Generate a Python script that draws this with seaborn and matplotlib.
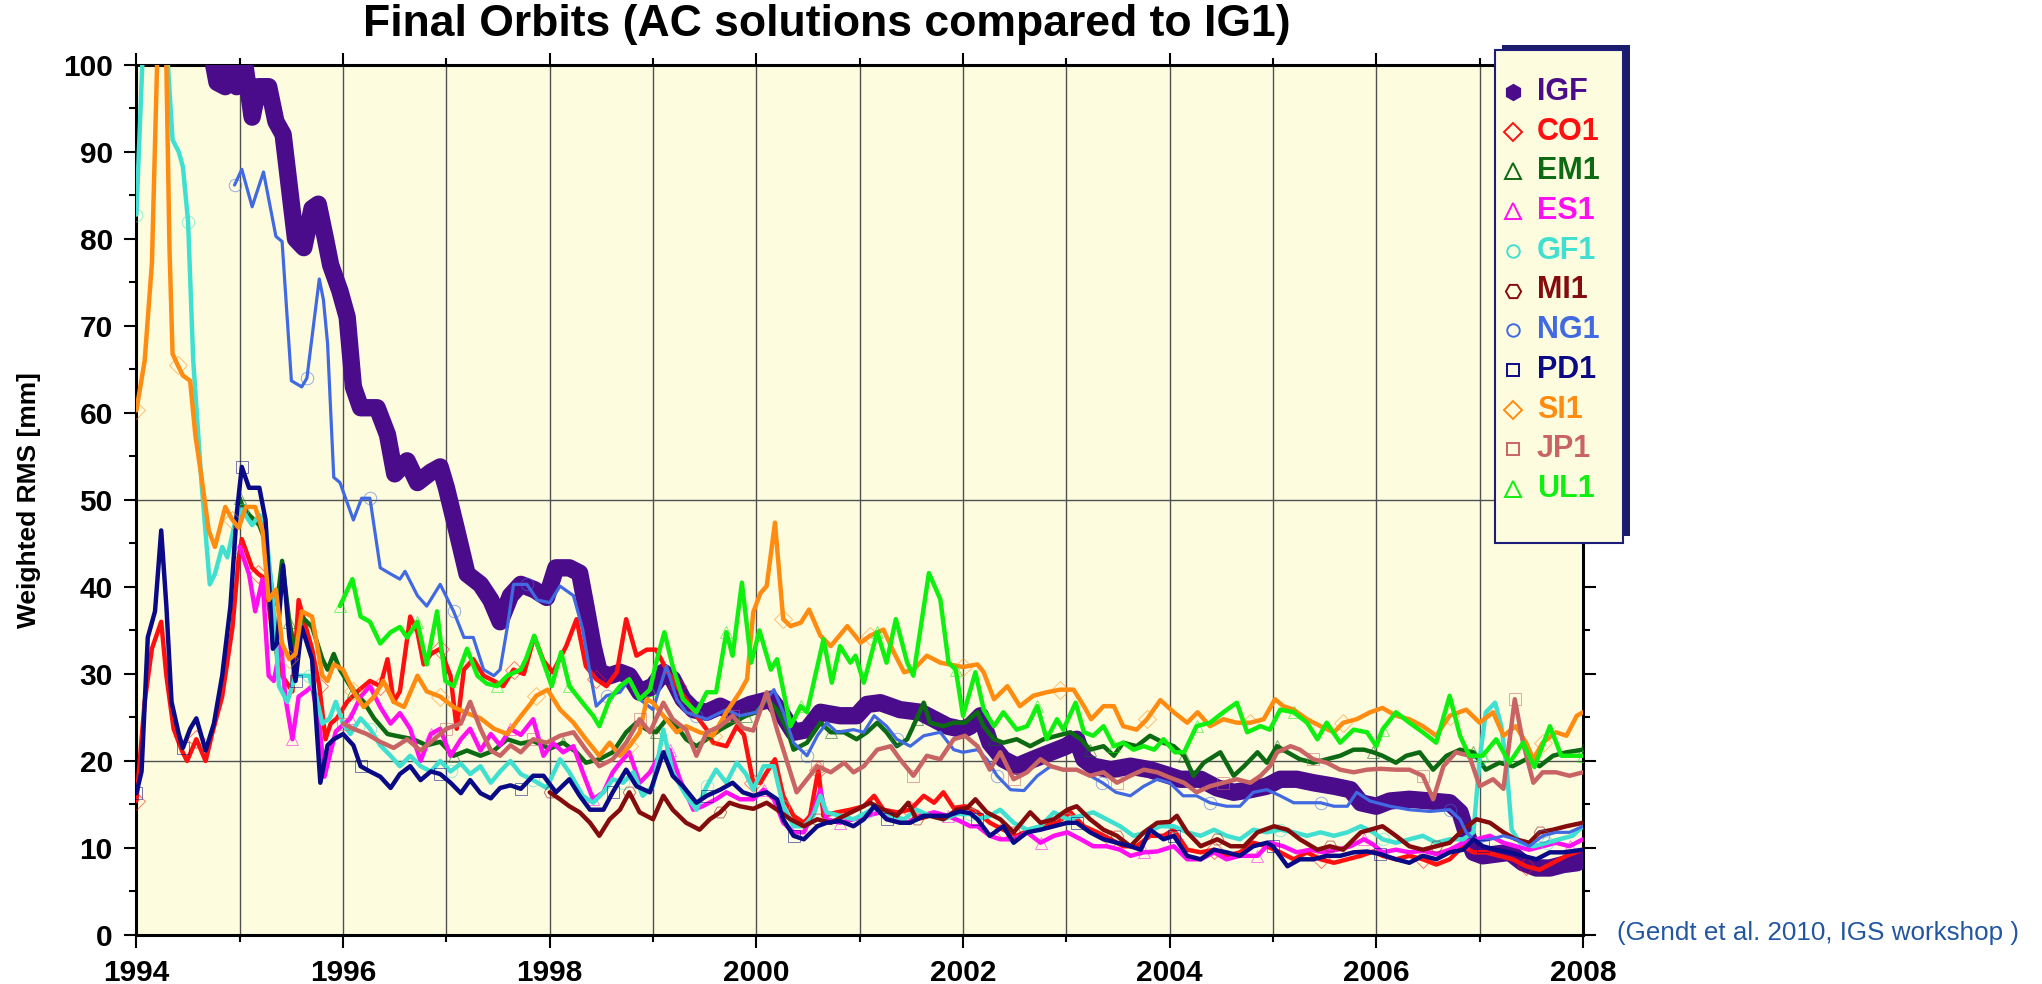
import numpy as np
import pandas as pd
import matplotlib.pyplot as plt
from matplotlib.lines import Line2D
from matplotlib.patches import Rectangle
from matplotlib.colors import to_rgba
from matplotlib.ticker import MultipleLocator, StrMethodFormatter
import seaborn as sns

# (year, weighted RMS [mm])
igf = [(1994.70, 103), (1994.78, 98), (1994.86, 97.5), (1994.92, 100.5), (1994.97, 97.5), (1995.05, 100),
       (1995.12, 94), (1995.18, 97.5), (1995.28, 97.5), (1995.35, 93.5), (1995.42, 92), (1995.48, 86),
       (1995.54, 80), (1995.62, 79), (1995.70, 83.5), (1995.76, 84), (1995.83, 80), (1995.88, 77),
       (1995.97, 74), (1996.04, 71), (1996.10, 63), (1996.17, 60.6), (1996.33, 60.6), (1996.43, 57.5),
       (1996.50, 53), (1996.62, 54.5), (1996.72, 52), (1996.85, 53.2), (1996.94, 53.8), (1997.00, 51.4),
       (1997.10, 46.5), (1997.20, 41.5), (1997.33, 40.3), (1997.43, 38.5), (1997.52, 36), (1997.62, 39),
       (1997.72, 40.3), (1997.85, 39.7), (1997.97, 38.8), (1998.06, 42.2), (1998.19, 42.2), (1998.29, 41.6),
       (1998.35, 37.8), (1998.42, 33.2), (1998.48, 30.2), (1998.58, 29.8), (1998.68, 30.2), (1998.77, 29.8),
       (1998.87, 27.9), (1999.00, 28.6), (1999.10, 30.2), (1999.19, 29.4), (1999.29, 27.1), (1999.39, 25.9),
       (1999.52, 25.6), (1999.65, 26.3), (1999.77, 25.6), (1999.94, 26.5), (2000.14, 27.1), (2000.26, 25.2),
       (2000.36, 23.3), (2000.49, 23.6), (2000.62, 25.6), (2000.81, 25.2), (2000.97, 25.2), (2001.07, 26.5),
       (2001.20, 26.7), (2001.39, 25.9), (2001.59, 25.6), (2001.72, 24.8), (2001.85, 24.0), (2002.00, 23.6),
       (2002.07, 24.0), (2002.17, 25.2), (2002.26, 22.1), (2002.39, 20.2), (2002.52, 19.4), (2002.68, 20.2),
       (2002.85, 21.0), (2003.00, 21.7), (2003.10, 22.5), (2003.17, 20.2), (2003.26, 19.4), (2003.43, 19.0),
       (2003.62, 19.4), (2003.81, 19.0), (2004.00, 18.3), (2004.10, 17.9), (2004.30, 17.9), (2004.46, 16.9),
       (2004.62, 16.4), (2004.78, 16.7), (2004.94, 17.1), (2005.07, 17.9), (2005.23, 17.9), (2005.39, 17.5),
       (2005.59, 17.1), (2005.75, 16.7), (2005.85, 15.2), (2006.00, 14.8), (2006.13, 15.4), (2006.32, 15.6),
       (2006.52, 15.4), (2006.71, 15.2), (2006.81, 14.1), (2006.87, 11.8), (2006.94, 9.5), (2007.03, 9.1),
       (2007.16, 9.3), (2007.29, 9.5), (2007.42, 8.3), (2007.55, 7.7), (2007.68, 7.7), (2007.81, 8.1),
       (2007.94, 8.3), (2008.00, 8.7)]

co1 = [(1994.00, 15.4), (1994.08, 26.8), (1994.15, 32.9), (1994.24, 36.0), (1994.29, 29.8), (1994.36, 23.7),
       (1994.44, 21.2), (1994.49, 20.0), (1994.58, 22.5), (1994.67, 20.0), (1994.73, 23.0), (1994.83, 27.4),
       (1994.93, 35.4), (1994.99, 43.4), (1995.02, 45.5), (1995.12, 42.2), (1995.18, 41.5), (1995.25, 40.9),
       (1995.32, 34.2), (1995.41, 29.8), (1995.51, 28.0), (1995.57, 38.5), (1995.64, 35.4), (1995.70, 32.9),
       (1995.77, 28.6), (1995.83, 22.5), (1995.88, 24.3), (1995.94, 24.9), (1996.04, 26.8), (1996.14, 28.0),
       (1996.20, 28.6), (1996.26, 29.2), (1996.36, 28.6), (1996.43, 31.7), (1996.49, 26.8), (1996.55, 28.0),
       (1996.65, 36.6), (1996.72, 34.8), (1996.78, 31.1), (1996.85, 32.3), (1996.94, 32.9), (1997.04, 29.8),
       (1997.10, 23.7), (1997.17, 30.5), (1997.26, 31.7), (1997.36, 29.8), (1997.46, 29.2), (1997.55, 28.6),
       (1997.65, 30.5), (1997.75, 30.0), (1997.85, 34.3), (1997.94, 31.5), (1998.03, 30.2), (1998.16, 33.2),
       (1998.26, 36.3), (1998.35, 30.9), (1998.45, 29.4), (1998.55, 28.6), (1998.65, 30.2), (1998.74, 36.3),
       (1998.84, 32.1), (1998.94, 32.8), (1999.03, 32.8), (1999.13, 30.5), (1999.23, 28.6), (1999.32, 27.1),
       (1999.42, 25.2), (1999.52, 23.6), (1999.58, 22.1), (1999.71, 21.7), (1999.81, 24.0), (1999.88, 23.0),
       (1999.97, 17.5), (2000.04, 17.5), (2000.10, 18.7), (2000.18, 20.2), (2000.26, 16.0), (2000.36, 13.7),
       (2000.46, 12.9), (2000.52, 13.7), (2000.60, 19.0), (2000.65, 13.7), (2000.78, 14.1), (2000.91, 14.4),
       (2001.04, 14.8), (2001.14, 16.0), (2001.23, 14.4), (2001.36, 14.1), (2001.49, 14.4), (2001.62, 16.0),
       (2001.72, 15.2), (2001.81, 16.4), (2001.91, 14.6), (2002.02, 14.8), (2002.14, 14.1), (2002.26, 12.9),
       (2002.39, 12.1), (2002.52, 11.4), (2002.65, 12.1), (2002.78, 12.5), (2002.91, 12.9), (2003.04, 14.1),
       (2003.17, 12.5), (2003.30, 11.8), (2003.43, 11.0), (2003.55, 10.2), (2003.68, 10.2), (2003.81, 11.4),
       (2003.94, 11.4), (2004.04, 12.1), (2004.17, 9.8), (2004.30, 9.5), (2004.43, 9.8), (2004.55, 9.1),
       (2004.68, 9.5), (2004.81, 10.6), (2004.94, 10.2), (2005.07, 9.5), (2005.20, 8.7), (2005.33, 9.5),
       (2005.46, 8.7), (2005.59, 8.3), (2005.72, 8.7), (2005.85, 9.1), (2005.97, 9.6), (2006.06, 9.1),
       (2006.19, 8.7), (2006.32, 9.1), (2006.45, 8.7), (2006.58, 8.1), (2006.71, 8.7), (2006.84, 10.2),
       (2006.94, 9.5), (2007.06, 9.5), (2007.19, 9.1), (2007.32, 8.7), (2007.45, 7.9), (2007.58, 7.5),
       (2007.71, 8.3), (2007.84, 9.1), (2008.00, 9.8)]

em1 = [(1995.00, 50.2), (1995.02, 49.5), (1995.09, 48.3), (1995.19, 47.1), (1995.25, 45.2), (1995.32, 39.0),
       (1995.36, 38.0), (1995.41, 43.0), (1995.48, 36.0), (1995.54, 32.3), (1995.60, 36.6), (1995.70, 35.4),
       (1995.80, 31.7), (1995.85, 30.5), (1995.91, 32.3), (1995.97, 30.5), (1996.10, 28.0), (1996.20, 26.8),
       (1996.30, 24.9), (1996.43, 23.1), (1996.55, 22.8), (1996.68, 22.5), (1996.81, 21.8), (1996.94, 22.2),
       (1997.07, 20.6), (1997.20, 21.2), (1997.33, 20.6), (1997.46, 21.2), (1997.59, 22.5), (1997.72, 22.0),
       (1997.84, 22.3), (1998.00, 21.4), (1998.13, 22.1), (1998.26, 21.0), (1998.35, 19.8), (1998.48, 20.2),
       (1998.61, 21.0), (1998.74, 23.3), (1998.84, 24.4), (1998.94, 23.6), (1999.03, 23.3), (1999.13, 24.8),
       (1999.23, 24.0), (1999.32, 22.5), (1999.42, 21.7), (1999.52, 22.5), (1999.65, 23.6), (1999.77, 24.4),
       (1999.90, 25.2), (2000.00, 25.6), (2000.10, 27.1), (2000.20, 25.9), (2000.30, 23.6), (2000.36, 21.3),
       (2000.49, 22.1), (2000.62, 24.4), (2000.72, 23.3), (2000.85, 23.3), (2000.97, 22.5), (2001.07, 23.3),
       (2001.17, 24.4), (2001.26, 23.3), (2001.36, 21.7), (2001.46, 22.5), (2001.55, 24.8), (2001.62, 26.7),
       (2001.68, 24.4), (2001.81, 24.0), (2001.91, 24.4), (2002.02, 24.4), (2002.14, 25.6), (2002.20, 24.0),
       (2002.30, 22.5), (2002.39, 22.1), (2002.52, 22.5), (2002.65, 21.7), (2002.78, 22.5), (2002.91, 22.9),
       (2003.04, 23.3), (2003.14, 22.5), (2003.23, 21.3), (2003.36, 21.7), (2003.46, 20.6), (2003.55, 22.1),
       (2003.68, 21.7), (2003.81, 22.9), (2003.94, 22.1), (2004.04, 21.7), (2004.14, 20.6), (2004.23, 18.3),
       (2004.33, 19.8), (2004.49, 21.0), (2004.62, 18.3), (2004.72, 19.4), (2004.85, 21.0), (2004.94, 19.8),
       (2005.04, 21.7), (2005.14, 21.0), (2005.26, 20.2), (2005.39, 19.8), (2005.52, 20.2), (2005.65, 20.6),
       (2005.78, 21.3), (2005.88, 21.3), (2005.97, 21.0), (2006.06, 20.6), (2006.19, 19.8), (2006.29, 20.6),
       (2006.42, 21.0), (2006.55, 19.0), (2006.68, 20.6), (2006.81, 21.3), (2006.94, 21.0), (2007.06, 19.0),
       (2007.19, 19.8), (2007.32, 19.4), (2007.45, 20.2), (2007.58, 19.4), (2007.71, 20.6), (2007.84, 21.0),
       (2008.00, 21.3)]

es1 = [(1995.00, 44.6), (1995.09, 41.5), (1995.15, 37.2), (1995.22, 40.9), (1995.28, 29.8), (1995.33, 29.2),
       (1995.40, 33.5), (1995.44, 27.4), (1995.51, 22.5), (1995.57, 27.4), (1995.64, 28.0), (1995.70, 28.6),
       (1995.77, 24.3), (1995.82, 18.2), (1995.87, 20.6), (1995.93, 23.4), (1996.07, 24.9), (1996.17, 27.4),
       (1996.26, 28.6), (1996.36, 26.2), (1996.46, 24.3), (1996.55, 25.5), (1996.65, 23.7), (1996.75, 20.0),
       (1996.85, 23.1), (1996.94, 23.7), (1997.04, 20.6), (1997.14, 22.5), (1997.23, 23.7), (1997.33, 21.2),
       (1997.43, 23.1), (1997.52, 21.8), (1997.62, 23.7), (1997.72, 23.0), (1997.84, 24.8), (1997.94, 20.6),
       (1998.03, 22.1), (1998.13, 21.0), (1998.23, 21.7), (1998.32, 18.7), (1998.42, 15.6), (1998.52, 16.4),
       (1998.61, 18.7), (1998.68, 19.8), (1998.77, 21.0), (1998.87, 17.5), (1998.97, 18.7), (1999.06, 20.6),
       (1999.16, 21.3), (1999.26, 17.9), (1999.39, 14.4), (1999.48, 14.8), (1999.61, 15.6), (1999.71, 16.4),
       (1999.84, 15.6), (1999.97, 15.6), (2000.07, 16.7), (2000.17, 15.6), (2000.26, 12.9), (2000.36, 11.8),
       (2000.46, 11.8), (2000.55, 14.1), (2000.62, 16.7), (2000.68, 13.3), (2000.81, 12.9), (2000.94, 13.3),
       (2001.07, 13.7), (2001.20, 14.1), (2001.33, 13.3), (2001.46, 12.9), (2001.59, 13.7), (2001.72, 14.1),
       (2001.85, 13.7), (2001.97, 13.1), (2002.07, 12.5), (2002.14, 12.5), (2002.26, 11.4), (2002.36, 11.0),
       (2002.49, 11.0), (2002.62, 11.8), (2002.75, 10.6), (2002.88, 11.4), (2003.01, 11.8), (2003.14, 11.0),
       (2003.26, 10.2), (2003.39, 10.2), (2003.52, 9.8), (2003.62, 9.1), (2003.75, 9.5), (2003.88, 9.6),
       (2004.04, 10.2), (2004.17, 8.7), (2004.30, 8.7), (2004.43, 9.5), (2004.55, 8.7), (2004.68, 9.1),
       (2004.85, 9.1), (2004.97, 10.6), (2005.10, 10.2), (2005.23, 9.5), (2005.36, 9.8), (2005.49, 9.5),
       (2005.62, 9.8), (2005.75, 10.2), (2005.88, 11.0), (2005.97, 10.4), (2006.06, 9.5), (2006.19, 9.8),
       (2006.32, 9.5), (2006.45, 9.7), (2006.58, 9.3), (2006.71, 9.8), (2006.84, 10.6), (2006.97, 11.0),
       (2007.10, 11.4), (2007.23, 10.6), (2007.35, 10.2), (2007.48, 9.8), (2007.61, 10.2), (2007.74, 10.6),
       (2007.87, 10.2), (2008.00, 11.0)]

gf1 = [(1994.00, 82.8), (1994.04, 95), (1994.07, 104), (1994.20, 112), (1994.30, 101), (1994.35, 91.4),
       (1994.41, 90.0), (1994.45, 88.3), (1994.50, 82), (1994.55, 66), (1994.63, 52), (1994.71, 40.3),
       (1994.76, 41.5), (1994.83, 44.6), (1994.88, 43.4), (1994.96, 47.7), (1995.02, 48.9), (1995.12, 47.1),
       (1995.19, 48.3), (1995.25, 47.1), (1995.32, 38.5), (1995.38, 28.6), (1995.46, 26.8), (1995.54, 29.8),
       (1995.67, 29.8), (1995.74, 27.4), (1995.80, 24.3), (1995.87, 24.9), (1995.93, 26.8), (1996.00, 24.3),
       (1996.07, 23.1), (1996.17, 24.9), (1996.26, 23.7), (1996.36, 21.8), (1996.46, 20.6), (1996.55, 19.4),
       (1996.65, 20.6), (1996.75, 19.4), (1996.85, 18.8), (1996.94, 20.0), (1997.04, 18.8), (1997.14, 19.7),
       (1997.23, 18.5), (1997.33, 19.4), (1997.43, 17.5), (1997.52, 18.8), (1997.62, 20.0), (1997.72, 18.5),
       (1997.84, 17.8), (1997.97, 16.9), (1998.10, 20.2), (1998.19, 18.7), (1998.32, 16.0), (1998.42, 15.2),
       (1998.52, 16.4), (1998.61, 17.9), (1998.71, 17.5), (1998.81, 18.7), (1998.90, 16.0), (1999.00, 17.1),
       (1999.10, 23.6), (1999.19, 18.7), (1999.32, 16.0), (1999.42, 14.4), (1999.52, 17.1), (1999.61, 19.0),
       (1999.71, 17.5), (1999.81, 19.8), (1999.90, 18.5), (1999.97, 16.7), (2000.07, 19.4), (2000.17, 19.4),
       (2000.26, 14.8), (2000.36, 12.5), (2000.46, 12.5), (2000.55, 13.7), (2000.62, 16.0), (2000.68, 14.1),
       (2000.81, 13.7), (2000.94, 13.3), (2001.07, 14.1), (2001.17, 14.8), (2001.30, 13.7), (2001.43, 13.3),
       (2001.55, 14.4), (2001.68, 13.7), (2001.81, 13.3), (2001.94, 13.9), (2002.07, 13.9), (2002.14, 13.3),
       (2002.26, 13.7), (2002.36, 14.4), (2002.49, 12.9), (2002.62, 12.1), (2002.75, 12.5), (2002.88, 14.1),
       (2003.01, 13.3), (2003.14, 13.7), (2003.26, 14.1), (2003.39, 13.3), (2003.52, 12.5), (2003.65, 11.4),
       (2003.78, 11.8), (2003.91, 12.5), (2004.04, 12.5), (2004.17, 11.8), (2004.30, 11.4), (2004.43, 12.1),
       (2004.55, 11.4), (2004.68, 11.0), (2004.81, 12.1), (2004.94, 11.8), (2005.07, 12.1), (2005.20, 11.8),
       (2005.33, 11.4), (2005.46, 11.8), (2005.59, 11.4), (2005.72, 11.8), (2005.85, 12.5), (2005.97, 11.8),
       (2006.06, 11.0), (2006.19, 10.6), (2006.32, 11.0), (2006.45, 11.4), (2006.58, 10.6), (2006.71, 11.0),
       (2006.84, 11.0), (2006.94, 11.8), (2007.00, 20.2), (2007.06, 25.6), (2007.15, 26.7), (2007.21, 24.0),
       (2007.26, 19.4), (2007.31, 12.1), (2007.39, 10.6), (2007.52, 10.2), (2007.65, 10.6), (2007.77, 11.0),
       (2007.90, 11.4), (2008.00, 12.5)]

mi1 = [(1998.00, 16.4), (1998.10, 15.6), (1998.19, 14.8), (1998.29, 14.1), (1998.39, 12.9), (1998.48, 11.4),
       (1998.58, 13.3), (1998.68, 14.4), (1998.77, 16.4), (1998.87, 14.1), (1999.00, 13.3), (1999.10, 16.0),
       (1999.19, 14.4), (1999.32, 12.9), (1999.45, 12.1), (1999.55, 13.3), (1999.65, 14.1), (1999.74, 15.2),
       (1999.84, 14.8), (1999.97, 14.5), (2000.10, 15.2), (2000.20, 14.4), (2000.33, 13.3), (2000.46, 12.5),
       (2000.59, 13.3), (2000.72, 12.9), (2000.85, 13.7), (2000.97, 14.4), (2001.10, 15.2), (2001.23, 14.4),
       (2001.36, 13.7), (2001.47, 15.2), (2001.55, 13.3), (2001.68, 13.7), (2001.81, 13.3), (2001.94, 14.4),
       (2002.04, 14.6), (2002.12, 15.6), (2002.23, 14.1), (2002.36, 13.3), (2002.49, 11.8), (2002.65, 14.1),
       (2002.75, 12.9), (2002.88, 13.3), (2003.01, 14.4), (2003.10, 14.8), (2003.23, 13.3), (2003.36, 12.1),
       (2003.49, 11.4), (2003.62, 10.2), (2003.75, 11.8), (2003.88, 12.9), (2004.00, 13.0), (2004.07, 13.7),
       (2004.17, 11.8), (2004.30, 10.2), (2004.46, 11.0), (2004.59, 10.2), (2004.72, 10.2), (2004.85, 11.8),
       (2005.01, 12.5), (2005.14, 12.1), (2005.26, 11.0), (2005.43, 9.8), (2005.55, 10.2), (2005.68, 9.8),
       (2005.85, 11.8), (2006.00, 12.3), (2006.06, 12.5), (2006.19, 11.4), (2006.32, 10.2), (2006.45, 9.8),
       (2006.58, 10.2), (2006.71, 10.6), (2006.84, 12.1), (2006.97, 13.3), (2007.10, 12.9), (2007.23, 11.8),
       (2007.35, 11.0), (2007.48, 10.6), (2007.58, 11.8), (2007.71, 12.1), (2007.84, 12.5), (2008.00, 12.9)]

ng1 = [(1994.95, 86.2), (1995.02, 88), (1995.12, 83.7), (1995.23, 87.7), (1995.35, 80.3), (1995.41, 79.7),
       (1995.50, 63.7), (1995.60, 63), (1995.65, 64), (1995.77, 75.4), (1995.81, 73), (1995.85, 68),
       (1995.91, 52.6), (1995.97, 52), (1996.10, 47.7), (1996.18, 50.2), (1996.26, 50.2), (1996.36, 42.2),
       (1996.46, 41.5), (1996.55, 40.9), (1996.60, 41.8), (1996.72, 39), (1996.81, 37.8), (1996.94, 40.3),
       (1997.07, 37.2), (1997.17, 34.2), (1997.26, 34.2), (1997.36, 30.5), (1997.46, 29.8), (1997.52, 30.5),
       (1997.59, 35.4), (1997.65, 40.3), (1997.78, 40.3), (1997.88, 38.5), (1998.00, 38.2), (1998.10, 40.1),
       (1998.23, 39), (1998.32, 35.1), (1998.39, 30.2), (1998.45, 26.3), (1998.55, 27.5), (1998.68, 27.9),
       (1998.77, 29.4), (1998.87, 27.1), (1999.00, 25.9), (1999.13, 30.9), (1999.23, 27.1), (1999.32, 25.6),
       (1999.42, 25.2), (1999.52, 24.8), (1999.71, 25.9), (1999.84, 25.2), (2000.00, 25.6), (2000.17, 28.2),
       (2000.26, 25.6), (2000.36, 22.1), (2000.49, 20.6), (2000.59, 22.9), (2000.68, 24.4), (2000.78, 23.3),
       (2000.94, 23.6), (2001.04, 23.3), (2001.14, 25.2), (2001.26, 24.0), (2001.36, 22.5), (2001.49, 21.7),
       (2001.62, 22.9), (2001.78, 23.3), (2001.91, 21.3), (2002.00, 21.0), (2002.14, 21.3), (2002.23, 20.2),
       (2002.33, 18.3), (2002.46, 16.7), (2002.59, 16.6), (2002.72, 18.3), (2002.85, 19.4), (2002.97, 19.0),
       (2003.10, 19.0), (2003.23, 18.3), (2003.35, 17.5), (2003.48, 16.4), (2003.62, 16.0), (2003.75, 17.1),
       (2003.88, 17.9), (2004.00, 17.5), (2004.13, 16.0), (2004.26, 16.0), (2004.39, 15.2), (2004.55, 14.8),
       (2004.68, 14.8), (2004.81, 16.4), (2004.94, 16.7), (2005.07, 16.0), (2005.20, 15.2), (2005.33, 15.2),
       (2005.46, 15.2), (2005.59, 14.8), (2005.72, 14.8), (2005.81, 16.4), (2005.94, 15.4), (2006.13, 14.8),
       (2006.32, 14.4), (2006.52, 14.2), (2006.71, 14.4), (2006.81, 13.3), (2006.87, 11.8), (2006.97, 10.7),
       (2007.10, 11.0), (2007.23, 11.4), (2007.35, 11.0), (2007.48, 10.2), (2007.61, 11.4), (2007.74, 11.8),
       (2007.87, 11.8), (2008.00, 12.5)]

pd1 = [(1994.00, 16.3), (1994.05, 18.8), (1994.11, 34.2), (1994.18, 37.2), (1994.24, 46.5), (1994.29, 37.8),
       (1994.34, 26.8), (1994.41, 23.1), (1994.45, 21.5), (1994.52, 23.7), (1994.58, 24.9), (1994.67, 21.2),
       (1994.75, 24.3), (1994.83, 29.8), (1994.91, 37.8), (1994.97, 48.3), (1995.02, 53.8), (1995.09, 51.4),
       (1995.19, 51.4), (1995.25, 47.7), (1995.32, 32.9), (1995.36, 33.5), (1995.42, 42.5), (1995.48, 34.2),
       (1995.54, 29.2), (1995.60, 35.4), (1995.70, 31.7), (1995.78, 17.5), (1995.85, 21.8), (1995.91, 22.5),
       (1996.00, 23.1), (1996.10, 21.8), (1996.17, 19.4), (1996.26, 18.8), (1996.36, 18.2), (1996.46, 16.9),
       (1996.55, 18.5), (1996.65, 19.4), (1996.75, 17.8), (1996.85, 18.8), (1996.94, 18.5), (1997.04, 17.5),
       (1997.14, 16.3), (1997.23, 17.8), (1997.33, 16.3), (1997.43, 15.7), (1997.52, 16.9), (1997.62, 17.2),
       (1997.72, 16.8), (1997.84, 18.3), (1997.94, 18.3), (1998.06, 16.4), (1998.19, 17.9), (1998.29, 16.0),
       (1998.39, 14.4), (1998.52, 14.4), (1998.61, 16.4), (1998.74, 19.0), (1998.84, 17.1), (1998.97, 16.4),
       (1999.10, 21.0), (1999.19, 18.3), (1999.29, 17.1), (1999.42, 15.2), (1999.52, 16.0), (1999.65, 16.7),
       (1999.77, 17.5), (1999.87, 16.4), (1999.97, 16.0), (2000.10, 16.4), (2000.20, 15.6), (2000.26, 13.3),
       (2000.36, 11.4), (2000.46, 11.0), (2000.59, 12.5), (2000.68, 12.9), (2000.81, 13.1), (2000.94, 12.5),
       (2001.04, 13.3), (2001.14, 14.8), (2001.26, 13.3), (2001.39, 12.9), (2001.49, 12.9), (2001.62, 13.7),
       (2001.75, 13.7), (2001.85, 13.7), (2001.97, 14.2), (2002.07, 14.0), (2002.14, 13.3), (2002.26, 11.4),
       (2002.39, 12.5), (2002.49, 10.6), (2002.62, 11.8), (2002.75, 12.1), (2002.88, 12.5), (2003.01, 12.9),
       (2003.10, 12.9), (2003.23, 11.8), (2003.36, 11.0), (2003.49, 10.6), (2003.62, 10.2), (2003.72, 9.8),
       (2003.81, 12.1), (2003.94, 11.0), (2004.04, 11.4), (2004.17, 9.1), (2004.30, 8.7), (2004.43, 9.8),
       (2004.55, 9.5), (2004.68, 9.1), (2004.81, 10.2), (2004.94, 10.6), (2005.00, 10.2), (2005.14, 7.9),
       (2005.26, 8.7), (2005.39, 8.7), (2005.52, 9.1), (2005.65, 9.1), (2005.78, 9.5), (2005.91, 9.6),
       (2006.04, 9.3), (2006.19, 8.7), (2006.32, 8.3), (2006.45, 9.1), (2006.58, 8.7), (2006.71, 9.5),
       (2006.84, 9.8), (2006.94, 11.0), (2007.03, 10.2), (2007.16, 9.8), (2007.29, 9.5), (2007.42, 9.1),
       (2007.55, 8.7), (2007.68, 9.5), (2007.81, 9.5), (2008.00, 9.8)]

si1 = [(1994.00, 60.3), (1994.08, 66), (1994.15, 77.2), (1994.20, 100), (1994.24, 106), (1994.29, 100),
       (1994.32, 79), (1994.35, 66.8), (1994.40, 65.5), (1994.45, 64.3), (1994.52, 63.7), (1994.57, 57.5),
       (1994.63, 52.6), (1994.70, 46.5), (1994.76, 44.6), (1994.86, 49.2), (1994.93, 47.7), (1994.99, 46.8),
       (1995.06, 49.2), (1995.15, 49.2), (1995.22, 46.5), (1995.28, 38.5), (1995.35, 39.7), (1995.41, 33.5),
       (1995.48, 31.7), (1995.54, 32.3), (1995.60, 37.2), (1995.70, 36.6), (1995.80, 29.8), (1995.85, 29.2),
       (1995.91, 31.1), (1996.00, 30.5), (1996.10, 28), (1996.20, 26.2), (1996.30, 27.4), (1996.39, 29.2),
       (1996.49, 26.8), (1996.59, 26.2), (1996.72, 29.8), (1996.81, 28), (1996.94, 27.4), (1997.07, 26.2),
       (1997.20, 25.5), (1997.33, 24.9), (1997.46, 23.7), (1997.59, 23.1), (1997.71, 25.0), (1997.81, 26.5),
       (1997.87, 27.5), (1997.98, 28.2), (1998.10, 25.9), (1998.23, 24.4), (1998.35, 22.5), (1998.48, 20.6),
       (1998.58, 22.1), (1998.68, 20.6), (1998.77, 21.7), (1998.87, 23.3), (1998.94, 27.1), (1999.00, 26.7),
       (1999.10, 25.2), (1999.23, 23.3), (1999.32, 24.0), (1999.45, 23.3), (1999.58, 22.9), (1999.71, 25.6),
       (1999.84, 27.9), (1999.91, 29.4), (1999.97, 37.1), (2000.04, 39.3), (2000.10, 40.1), (2000.18, 47.4),
       (2000.26, 36.3), (2000.33, 35.5), (2000.43, 35.9), (2000.51, 37.4), (2000.62, 34.4), (2000.72, 33.2),
       (2000.88, 35.5), (2001.01, 33.6), (2001.10, 34.4), (2001.23, 35.1), (2001.33, 32.5), (2001.43, 30.2),
       (2001.52, 30.5), (2001.65, 32.1), (2001.78, 31.3), (2001.91, 31.0), (2002.00, 30.8), (2002.14, 31.1),
       (2002.20, 30.2), (2002.30, 27.1), (2002.43, 28.6), (2002.55, 26.3), (2002.68, 27.5), (2002.81, 27.9),
       (2002.94, 28.2), (2003.07, 28.2), (2003.17, 26.3), (2003.24, 24.8), (2003.36, 26.3), (2003.46, 26.3),
       (2003.55, 24.0), (2003.68, 23.6), (2003.78, 24.8), (2003.91, 27.0), (2004.04, 25.6), (2004.17, 24.4),
       (2004.27, 25.6), (2004.39, 24.0), (2004.52, 24.8), (2004.65, 24.4), (2004.78, 24.4), (2004.91, 24.8),
       (2005.02, 27.1), (2005.10, 26.3), (2005.20, 25.9), (2005.33, 24.8), (2005.46, 24.0), (2005.59, 23.3),
       (2005.68, 24.4), (2005.81, 24.8), (2005.94, 25.6), (2006.06, 26.1), (2006.19, 25.2), (2006.32, 24.8),
       (2006.45, 24.0), (2006.58, 22.9), (2006.71, 25.2), (2006.87, 25.9), (2007.00, 24.4), (2007.13, 25.6),
       (2007.23, 22.9), (2007.35, 24.0), (2007.45, 22.1), (2007.52, 20.2), (2007.61, 22.1), (2007.74, 23.3),
       (2007.84, 22.9), (2007.94, 25.2), (2008.00, 25.6)]

jp1 = [(1996.00, 24.3), (1996.10, 23.7), (1996.23, 23.1), (1996.36, 22.2), (1996.49, 21.5), (1996.62, 22.5),
       (1996.75, 21.2), (1996.88, 22.5), (1997.00, 23.7), (1997.14, 24.3), (1997.23, 26.8), (1997.33, 23.7),
       (1997.43, 21.2), (1997.52, 20.6), (1997.62, 21.8), (1997.72, 21.0), (1997.84, 22.5), (1997.97, 22.1),
       (1998.10, 22.9), (1998.23, 23.3), (1998.35, 21.3), (1998.48, 19.4), (1998.61, 20.2), (1998.74, 22.1),
       (1998.87, 24.8), (1998.97, 23.3), (1999.10, 26.7), (1999.19, 24.8), (1999.32, 23.6), (1999.42, 20.6),
       (1999.52, 23.3), (1999.65, 24.0), (1999.77, 25.2), (1999.87, 23.8), (1999.97, 23.5), (2000.10, 27.9),
       (2000.20, 23.6), (2000.30, 19.8), (2000.39, 16.4), (2000.49, 17.9), (2000.59, 19.4), (2000.72, 18.7),
       (2000.85, 19.8), (2000.94, 18.7), (2001.04, 19.4), (2001.17, 21.3), (2001.30, 21.7), (2001.39, 20.2),
       (2001.52, 18.3), (2001.65, 20.6), (2001.78, 20.2), (2001.91, 22.5), (2002.02, 22.9), (2002.14, 21.7),
       (2002.26, 19.0), (2002.36, 21.0), (2002.49, 17.9), (2002.62, 18.7), (2002.75, 20.2), (2002.85, 19.4),
       (2002.97, 19.0), (2003.10, 19.0), (2003.23, 18.3), (2003.36, 18.7), (2003.49, 17.5), (2003.62, 18.3),
       (2003.75, 19.0), (2003.88, 18.7), (2004.00, 18.1), (2004.14, 17.5), (2004.26, 16.4), (2004.39, 17.1),
       (2004.52, 17.5), (2004.65, 17.9), (2004.78, 17.5), (2004.88, 18.3), (2004.97, 19.4), (2005.04, 21.0),
       (2005.17, 21.7), (2005.26, 21.3), (2005.39, 20.2), (2005.52, 19.8), (2005.65, 19.0), (2005.78, 18.7),
       (2005.91, 19.0), (2006.04, 19.1), (2006.19, 19.0), (2006.32, 19.0), (2006.45, 18.3), (2006.55, 15.6),
       (2006.65, 19.4), (2006.77, 21.0), (2006.90, 20.6), (2007.00, 17.1), (2007.13, 17.9), (2007.23, 16.8),
       (2007.34, 27.1), (2007.42, 22.1), (2007.52, 17.5), (2007.61, 18.7), (2007.74, 18.7), (2007.87, 18.3),
       (2008.00, 18.7)]

ul1 = [(1995.97, 37.8), (1996.09, 40.9), (1996.17, 36.6), (1996.26, 36.0), (1996.36, 33.5), (1996.46, 34.8),
       (1996.55, 35.4), (1996.62, 34.2), (1996.72, 36.0), (1996.81, 31.1), (1996.91, 37.2), (1996.99, 29.2),
       (1997.07, 28.6), (1997.20, 32.9), (1997.30, 29.8), (1997.39, 28.9), (1997.49, 28.6), (1997.59, 29.8),
       (1997.72, 30.5), (1997.77, 31.7), (1997.85, 34.4), (1997.94, 31.3), (1998.02, 28.6), (1998.11, 32.5),
       (1998.19, 28.6), (1998.29, 27.1), (1998.42, 25.2), (1998.48, 24.0), (1998.58, 27.1), (1998.68, 28.6),
       (1998.77, 29.4), (1998.87, 27.1), (1998.97, 28.2), (1999.03, 31.3), (1999.11, 34.8), (1999.19, 30.9),
       (1999.29, 27.1), (1999.42, 25.6), (1999.52, 27.9), (1999.61, 27.9), (1999.71, 34.8), (1999.77, 32.1),
       (1999.86, 40.5), (1999.95, 31.3), (2000.03, 35.0), (2000.14, 30.5), (2000.20, 31.7), (2000.33, 24.0),
       (2000.43, 26.3), (2000.49, 25.6), (2000.65, 34.0), (2000.73, 29.0), (2000.81, 33.2), (2000.91, 31.3),
       (2000.96, 32.1), (2001.04, 29.0), (2001.17, 34.8), (2001.26, 31.3), (2001.35, 36.3), (2001.46, 31.3),
       (2001.52, 29.8), (2001.67, 41.6), (2001.78, 38.6), (2001.86, 31.3), (2001.93, 30.5), (2002.00, 25.2),
       (2002.12, 30.2), (2002.20, 25.9), (2002.30, 24.0), (2002.39, 25.6), (2002.52, 23.6), (2002.62, 24.0),
       (2002.72, 26.3), (2002.81, 22.5), (2002.91, 24.8), (2002.97, 23.6), (2003.09, 26.7), (2003.17, 23.3),
       (2003.26, 22.9), (2003.36, 24.0), (2003.46, 21.7), (2003.55, 22.1), (2003.65, 21.3), (2003.75, 21.7),
       (2003.85, 21.3), (2003.94, 22.5), (2004.05, 21.0), (2004.14, 21.0), (2004.26, 24.0), (2004.39, 24.4),
       (2004.52, 25.6), (2004.65, 26.7), (2004.75, 23.3), (2004.88, 24.0), (2004.97, 23.6), (2005.07, 25.9),
       (2005.20, 25.6), (2005.33, 24.4), (2005.43, 22.5), (2005.52, 24.4), (2005.65, 22.1), (2005.78, 23.6),
       (2005.91, 23.3), (2006.00, 21.7), (2006.06, 23.6), (2006.19, 25.6), (2006.32, 24.4), (2006.45, 23.3),
       (2006.58, 22.1), (2006.71, 27.5), (2006.81, 22.9), (2006.90, 20.6), (2007.03, 20.6), (2007.16, 22.5),
       (2007.29, 19.8), (2007.42, 22.1), (2007.53, 19.3), (2007.68, 24.0), (2007.79, 20.6), (2007.90, 20.6),
       (2008.00, 20.6)]

names = ['IGF', 'CO1', 'EM1', 'ES1', 'GF1', 'MI1', 'NG1', 'PD1', 'SI1', 'JP1', 'UL1']
series = [igf, co1, em1, es1, gf1, mi1, ng1, pd1, si1, jp1, ul1]
colors = ['#4b0c8c', '#ff1010', '#0b6a12', '#ff10f0', '#40e0d0', '#840c0c',
          '#4169e1', '#0a0a86', '#ff8c10', '#c86464', '#10f010']
markers = ['h', 'D', '^', '^', 'o', 'H', 'o', 's', 'D', 's', '^']
widths = [12.5, 3.2, 3.2, 3.2, 3.2, 3.2, 2.3, 3.2, 3.2, 3.2, 3.2]

bg = '#fefcdf'

sns.set_theme(style='ticks')
plt.rcParams['font.family'] = ['Liberation Sans', 'DejaVu Sans']

fig = plt.figure(figsize=(20.42, 9.84), dpi=100)
ax = fig.add_axes([0.0668, 0.0498, 0.7084, 0.8842])
ax.set_facecolor(bg)

for name, data, c, m, lw in zip(names, series, colors, markers, widths):
    df = pd.DataFrame(data, columns=['year', 'rms'])
    if name == 'IGF':
        sns.lineplot(data=df, x='year', y='rms', ax=ax, color=c, linewidth=lw,
                     solid_joinstyle='round', solid_capstyle='round', zorder=3)
    else:
        sns.lineplot(data=df, x='year', y='rms', ax=ax, color=c, linewidth=lw,
                     marker=m, markevery=8, markersize=9, markerfacecolor='none',
                     markeredgecolor=to_rgba(c, 0.55), markeredgewidth=0.7, zorder=4)

ax.set_xlim(1994, 2008)
ax.set_ylim(0, 100)
ax.xaxis.set_major_locator(MultipleLocator(2))
ax.xaxis.set_minor_locator(MultipleLocator(1))
ax.xaxis.set_major_formatter(StrMethodFormatter('{x:.0f}'))
ax.yaxis.set_major_locator(MultipleLocator(10))
ax.yaxis.set_minor_locator(MultipleLocator(5))
ax.tick_params(which='both', direction='out', top=True, right=True, width=1.5, color='black',
               labelsize=21.5, labelcolor='black')
ax.tick_params(which='major', length=9, pad=8)
ax.tick_params(which='minor', length=5)
for lab in ax.get_xticklabels() + ax.get_yticklabels():
    lab.set_fontweight('bold')

ax.set_axisbelow(True)
ax.xaxis.grid(True, which='both', color='#505050', linewidth=1)
ax.yaxis.grid(False)
for yv in (20, 50):
    ax.axhline(yv, color='#505050', linewidth=1, zorder=1)
for sp in ax.spines.values():
    sp.set_color('black')
    sp.set_linewidth(2.2)

ax.set_xlabel('')
ax.set_ylabel('Weighted RMS [mm]', fontsize=19, fontweight='bold', color='black')
ax.yaxis.set_label_coords(-0.066, 0.5)

fig.text(0.405, 0.975, 'Final Orbits (AC solutions compared to IG1)', ha='center', va='center',
         fontsize=32, fontweight='bold', color='black')

# legend box with offset shadow
fig.add_artist(Rectangle((0.7356, 0.4553), 0.0627, 0.4990, transform=fig.transFigure,
                         facecolor='#1c1c6e', edgecolor='none', zorder=5))
fig.add_artist(Rectangle((0.7321, 0.4482), 0.0627, 0.5010, transform=fig.transFigure,
                         facecolor=bg, edgecolor='#1c1c7a', linewidth=1.5, zorder=6))
for i, (name, c, m) in enumerate(zip(names, colors, markers)):
    yf = 1 - (92 + 39.7 * i) / 984
    filled = name == 'IGF'
    fig.add_artist(Line2D([0.741], [yf], transform=fig.transFigure, marker=m, linestyle='none',
                          markersize=11 if m not in ('o', 's', 'D') else 9,
                          markerfacecolor=c if filled else 'none', markeredgecolor=c,
                          markeredgewidth=1.4, zorder=7))
    fig.text(0.7527, yf, name, color=c, fontsize=22, fontweight='bold', va='center', ha='left', zorder=7)

fig.text(0.792, 0.052, '(Gendt et al. 2010, IGS workshop )', color='#2356a0', fontsize=18.7,
         va='center', ha='left')

fig.savefig('out.png', dpi=100, facecolor='white')
